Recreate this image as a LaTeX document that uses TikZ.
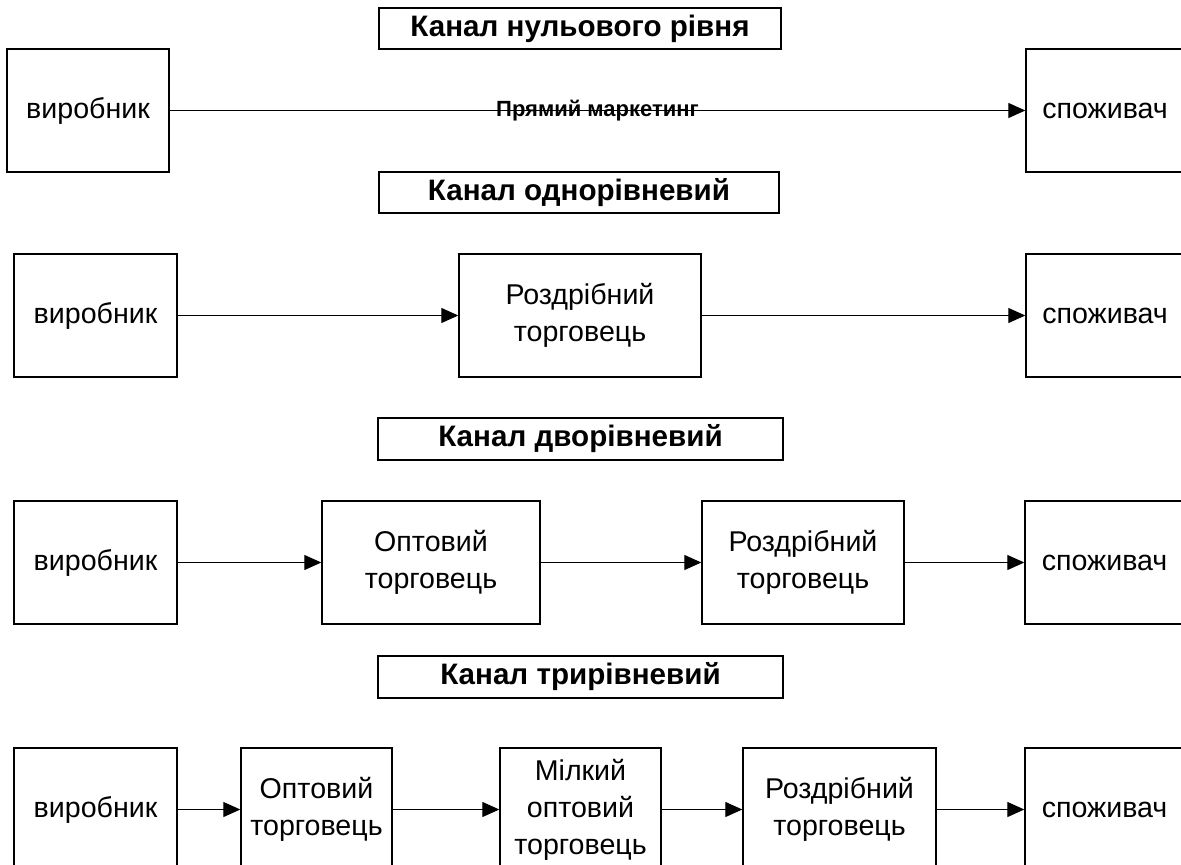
\documentclass[tikz,border=0pt]{standalone}
\usepackage{fontspec}
\setmainfont{Liberation Sans}
\usetikzlibrary{arrows.meta}
\newcommand\mkbox[7]{\node[#1, minimum width={(#5-#3)*0.5pt}, minimum height={(#6-#4)*0.5pt}] (#2) at ({(#3+#5)/2},{(#4+#6)/2}) {#7};}
\begin{document}
\begin{tikzpicture}[x=0.5pt,y=-0.5pt,
 box/.style={draw, line width=0.7pt, inner sep=0pt, align=center, font=\fontsize{14.3}{18.5}\selectfont},
 titlebox/.style={draw, line width=0.7pt, inner sep=0pt, font=\bfseries\fontsize{14.8}{17}\selectfont},
 flow/.style={-{Triangle[length=8.5pt,width=7.5pt]}, line width=0.6pt},
 lbl/.style={font=\bfseries\fontsize{11}{13}\selectfont, inner sep=0pt}]
\clip (0,0) rectangle (1181,865);
% titles
\mkbox{titlebox}{t1}{379}{8}{781}{49}{Канал нульового рівня}
\mkbox{titlebox}{t2}{379}{172}{779}{213}{Канал однорівневий}
\mkbox{titlebox}{t3}{378}{418}{783}{460}{Канал дворівневий}
\mkbox{titlebox}{t4}{378}{656}{783}{698}{Канал трирівневий}
% row 1
\mkbox{box}{p1}{7}{49}{169}{172}{виробник}
\mkbox{box}{c1}{1026}{49}{1184}{172}{споживач}
\draw[flow] (p1) -- (c1) node[lbl, midway] {Прямий маркетинг};
% row 2
\mkbox{box}{p2}{14}{254}{177}{377}{виробник}
\mkbox{box}{r2}{459}{254}{701}{377}{Роздрібний\\торговець}
\mkbox{box}{c2}{1026}{254}{1184}{377}{споживач}
\draw[flow] (p2) -- (r2);
\draw[flow] (r2) -- (c2);
% row 3
\mkbox{box}{p3}{14}{501}{177}{624}{виробник}
\mkbox{box}{o3}{322}{501}{540}{624}{Оптовий\\торговець}
\mkbox{box}{r3}{702}{501}{904}{624}{Роздрібний\\торговець}
\mkbox{box}{c3}{1025}{501}{1184}{624}{споживач}
\draw[flow] (p3) -- (o3);
\draw[flow] (o3) -- (r3);
\draw[flow] (r3) -- (c3);
% row 4
\mkbox{box}{p4}{14}{748}{177}{871}{виробник}
\mkbox{box}{o4}{241}{748}{392}{871}{Оптовий\\торговець}
\mkbox{box}{m4}{500}{748}{661}{871}{Мілкий\\оптовий\\торговець}
\mkbox{box}{r4}{743}{748}{936}{871}{Роздрібний\\торговець}
\mkbox{box}{c4}{1025}{748}{1184}{871}{споживач}
\draw[flow] (p4) -- (o4);
\draw[flow] (o4) -- (m4);
\draw[flow] (m4) -- (r4);
\draw[flow] (r4) -- (c4);
\end{tikzpicture}
\end{document}
